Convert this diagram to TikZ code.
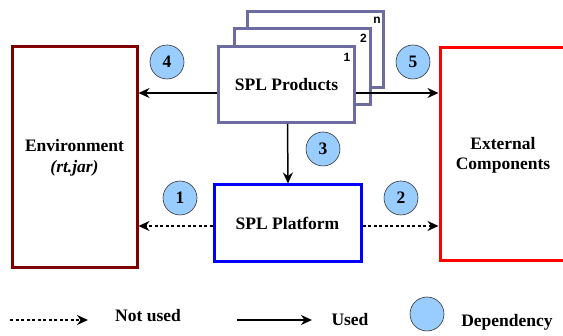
\documentclass[tikz,border=0pt]{standalone}
\usepackage{fontspec}
\setmainfont{Liberation Serif}
\newfontfamily\labelsans{Liberation Sans}
\usetikzlibrary{arrows.meta}

\definecolor{envred}{RGB}{128,0,0}
\definecolor{extred}{RGB}{255,0,0}
\definecolor{platblue}{RGB}{0,0,255}
\definecolor{prodslate}{RGB}{108,108,160}
\definecolor{depfill}{RGB}{153,204,255}

\tikzset{
  box/.style={draw, line width=3pt, fill=white, rectangle, inner sep=0pt,
    font=\fontsize{17.5}{20}\selectfont\bfseries, align=center},
  prodbox/.style={box, draw=prodslate, minimum width=136pt, minimum height=76pt},
  dep/.style={circle, draw=black!80, line width=0.6pt, fill=depfill,
    minimum size=34pt, inner sep=0pt, font=\fontsize{17.5}{20}\selectfont\bfseries},
  copyno/.style={font=\labelsans\fontsize{12}{14}\selectfont\bfseries, inner sep=0pt},
  txt/.style={font=\fontsize{17.5}{20}\selectfont\bfseries, inner sep=0pt, align=center},
  used/.style={line width=1.5pt, -{Stealth[length=11pt,width=10pt]}},
  notused/.style={used, dash pattern=on 3pt off 2.5pt},
}

\begin{document}
\begin{tikzpicture}[x=1pt, y=-1pt]
  \useasboundingbox (0,0) rectangle (563,336);
  \clip (0,0) rectangle (563,336);

  % main blocks
  \node[box, draw=envred, minimum width=125pt, minimum height=221pt] (env) at (74.5,157.5)
    {Environment\\[1pt]{\itshape (rt.jar)}};
  \node[box, draw=extred, minimum width=160pt, minimum height=213pt] (ext) at (520,154.5) {};
  \node[txt] (exttxt) at (503,155) {External\\Components};
  \node[box, draw=platblue, minimum width=147pt, minimum height=77pt] (plat) at (287.5,223.5)
    {SPL Platform};

  % stack of product copies, back to front
  \node[prodbox] (prod3) at (315.5,50) {};
  \node[copyno] (prod3no) at ([xshift=-8pt,yshift=-10pt]prod3.north east) {n};
  \node[prodbox] (prod2) at (302,67) {};
  \node[copyno] (prod2no) at ([xshift=-8pt,yshift=-11pt]prod2.north east) {2};
  \node[prodbox] (prod) at (286.5,84.5) {SPL Products};
  \node[copyno] (prod1no) at ([xshift=-9pt,yshift=-12pt]prod.north east) {1};

  % dependencies
  \coordinate (pw) at ([yshift=-8.5pt]prod.west);
  \coordinate (pe) at ([yshift=-8.5pt]prod.east);
  \draw[used] (pw) -- (pw -| env.east);
  \draw[used] (pe) -- (pe -| ext.west);
  \draw[used] ([xshift=1pt]prod.south) -- ([xshift=0.5pt]plat.north);
  \coordinate (qw) at ([yshift=-2.5pt]plat.west);
  \coordinate (qe) at ([yshift=-2.5pt]plat.east);
  \draw[notused] (qw) -- (qw -| env.east);
  \draw[notused] (qe) -- (qe -| ext.west);

  \node[dep] (d1) at (180,198) {1};
  \node[dep] (d2) at (401,198) {2};
  \node[dep] (d3) at (323,149) {3};
  \node[dep] (d4) at (167,62) {4};
  \node[dep] (d5) at (413,62) {5};

  % legend
  \coordinate (la) at (10,320);
  \coordinate (lb) at (88,320);
  \draw[notused] (la) -- (lb);
  \node[txt] (lnot) at (148,316) {Not used};
  \coordinate (lc) at (237,320);
  \coordinate (ld) at (312,320);
  \draw[used] (lc) -- (ld);
  \node[txt] (lused) at (350,320) {Used};
  \node[dep] (ldep) at (427,314) {};
  \node[txt] (ldeptxt) at (507,322) {Dependency};
\end{tikzpicture}
\end{document}
